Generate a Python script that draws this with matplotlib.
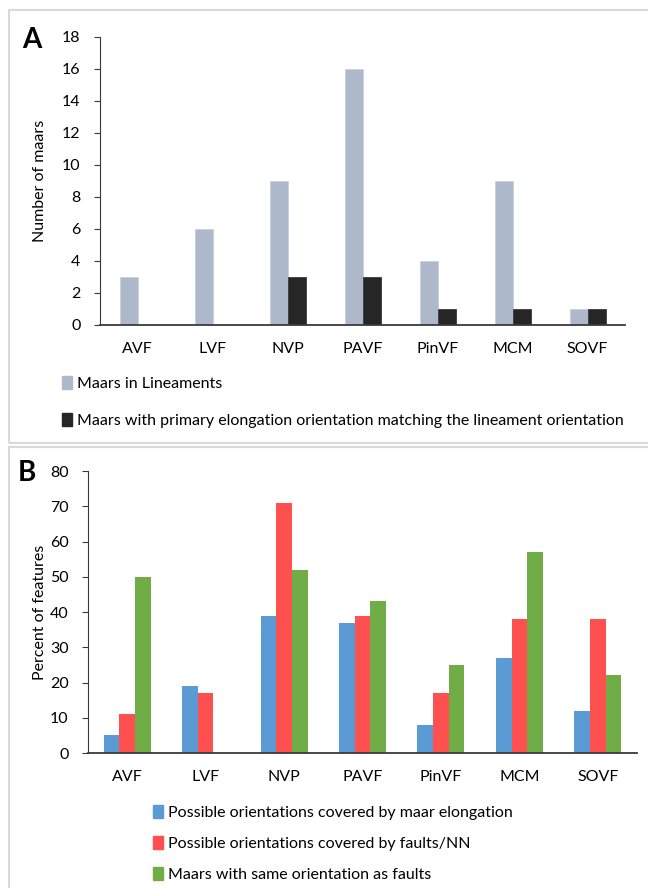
import numpy as np
import matplotlib
matplotlib.use('Agg')
import matplotlib.pyplot as plt
from matplotlib.patches import Patch, Rectangle

plt.rcParams['font.family'] = ['Lato', 'DejaVu Sans']
plt.rcParams['font.size'] = 11

# data
sites = ['AVF', 'LVF', 'NVP', 'PAVF', 'PinVF', 'MCM', 'SOVF']
maars_lineaments = [3, 6, 9, 16, 4, 9, 1]
maars_matching = [0, 0, 3, 3, 1, 1, 1]
pct_elongation = [5, 19, 39, 37, 8, 27, 12]
pct_faults = [11, 17, 71, 39, 17, 38, 38]
pct_same = [50, 0, 52, 43, 25, 57, 22]

W, H = 648, 888
fig = plt.figure(figsize=(W / 100, H / 100), dpi=100)

def px_axes(l, t, r, b):
    return fig.add_axes([l / W, 1 - b / H, (r - l) / W, (b - t) / H])

def style(ax):
    for s in ['top', 'right']:
        ax.spines[s].set_visible(False)
    ax.spines['left'].set_color('#3a3a3a')
    ax.spines['bottom'].set_color('#3a3a3a')
    ax.spines['bottom'].set_linewidth(1.3)
    ax.tick_params(axis='x', length=0, pad=12, labelsize=11.5)
    ax.tick_params(axis='y', length=4, direction='out', color='#3a3a3a', labelsize=11.5, pad=10)

# panel frames
fig.patches.append(Rectangle((9 / W, 1 - 443 / H), 700 / W, 433 / H, transform=fig.transFigure,
                             fill=False, edgecolor='#d9d9d9', linewidth=1.5))
fig.patches.append(Rectangle((9 / W, 1 - 900 / H), 700 / W, 453 / H, transform=fig.transFigure,
                             fill=False, edgecolor='#d9d9d9', linewidth=1.5))

x = np.arange(len(sites))

# panel A
axA = px_axes(100, 37, 625, 325)
bw = 0.24
axA.bar(x - bw / 2, maars_lineaments, bw, color='#adb9ca', edgecolor='#c8d1dd', linewidth=0.6)
axA.bar(x + bw / 2, maars_matching, bw, color='#262626', edgecolor='#3a3a3a', linewidth=0.6)
axA.set_xlim(-0.5, len(sites) - 0.5)
axA.set_ylim(0, 18)
axA.set_yticks(range(0, 19, 2))
axA.set_xticks(x)
axA.set_xticklabels(sites)
axA.set_ylabel('Number of maars', fontsize=11.5, labelpad=11)
style(axA)
fig.text(22 / W, 1 - 40 / H, 'A', fontsize=20, fontweight='bold', va='center', ha='left')

fig.legend(handles=[Patch(color='#adb9ca', label='Maars in Lineaments'),
                    Patch(color='#262626', label='Maars with primary elongation orientation matching the lineament orientation')],
           loc='upper left', bbox_to_anchor=(62 / W, 1 - 376 / H), frameon=False,
           handlelength=0.6, handleheight=0.9, handletextpad=0.35, labelspacing=1.35, fontsize=11.5,
           borderaxespad=0, borderpad=0)

# panel B
axB = px_axes(88, 471, 637, 753)
bw = 0.2
axB.bar(x - bw, pct_elongation, bw, color='#5b9bd5')
axB.bar(x, pct_faults, bw, color='#ff5050')
axB.bar(x + bw, pct_same, bw, color='#70ad47')
axB.set_xlim(-0.5, len(sites) - 0.5)
axB.set_ylim(0, 80)
axB.set_yticks(range(0, 81, 10))
axB.set_xticks(x)
axB.set_xticklabels(sites)
axB.set_ylabel('Percent of features', fontsize=11.5, labelpad=2)
style(axB)
fig.text(18 / W, 1 - 473 / H, 'B', fontsize=20, fontweight='bold', va='center', ha='left')

fig.legend(handles=[Patch(color='#5b9bd5', label='Possible orientations covered by maar elongation'),
                    Patch(color='#ff5050', label='Possible orientations covered by faults/NN'),
                    Patch(color='#70ad47', label='Maars with same orientation as faults')],
           loc='upper left', bbox_to_anchor=(153 / W, 1 - 805 / H), frameon=False,
           handlelength=0.6, handleheight=0.9, handletextpad=0.35, labelspacing=1.0, fontsize=11.5,
           borderaxespad=0, borderpad=0)

fig.savefig('out.png', dpi=100)
